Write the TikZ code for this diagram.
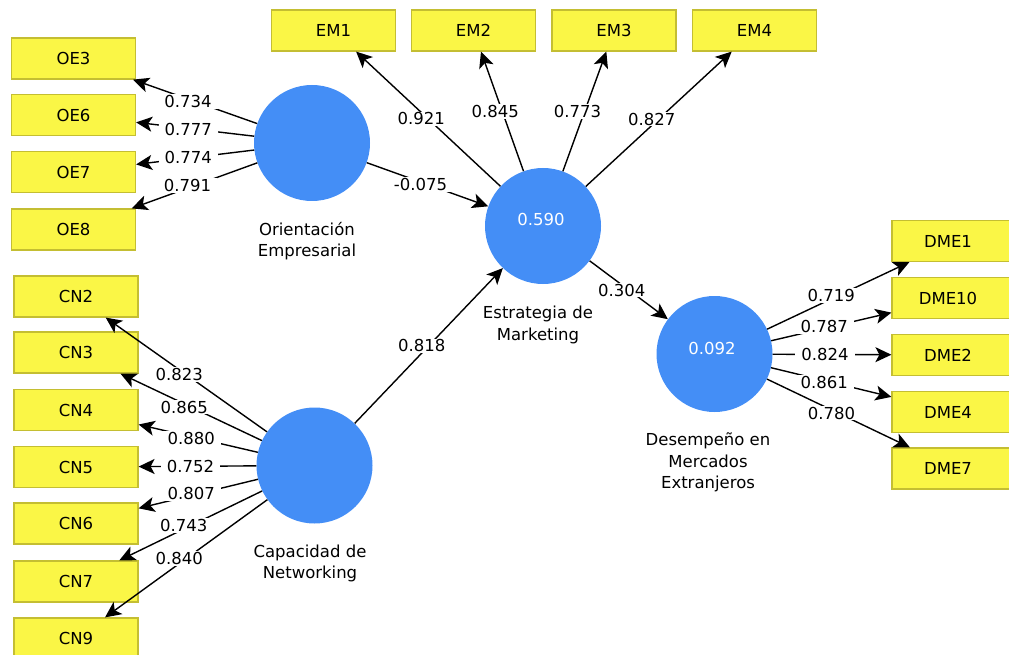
\documentclass[tikz,border=0pt]{standalone}
\usepackage{fontspec}
\setmainfont{DejaVu Sans}
\usetikzlibrary{arrows.meta}
\definecolor{lvblue}{RGB}{68,142,246}
\definecolor{mvfill}{RGB}{250,246,70}
\definecolor{mvdraw}{RGB}{196,190,50}
\begin{document}
\begin{tikzpicture}[x=1pt,y=-1pt,
  mv/.style={draw=mvdraw, fill=mvfill, line width=1.2pt, minimum width=124pt, minimum height=41pt, inner sep=0pt, font=\fontsize{16.5}{19}\selectfont},
  lv/.style={circle, fill=lvblue, minimum size=116pt, inner sep=0pt},
  arr/.style={line width=1.4pt, -{Stealth[length=16pt,width=15pt,inset=4pt]}},
  lab/.style={fill=white, inner xsep=6pt, inner ysep=1pt, xshift=-7pt, font=\fontsize{16.5}{19}\selectfont},
  lvcap/.style={align=center, font=\fontsize{16.5}{21.5}\selectfont},
  r2/.style={text=white, font=\fontsize{16.5}{19}\selectfont}]
\useasboundingbox (0,0) rectangle (1009,655);
\clip (0,0) rectangle (1009,655);
% indicator boxes
\node[mv] (OE3) at (73.5,58.5) {OE3};
\node[mv] (OE6) at (73.5,115) {OE6};
\node[mv] (OE7) at (73.5,172) {OE7};
\node[mv] (OE8) at (73.5,229.5) {OE8};
\node[mv] (CN2) at (76,296.5) {CN2};
\node[mv] (CN3) at (76,352.5) {CN3};
\node[mv] (CN4) at (76,410) {CN4};
\node[mv] (CN5) at (76,467) {CN5};
\node[mv] (CN6) at (76,523.5) {CN6};
\node[mv] (CN7) at (76,581.5) {CN7};
\node[mv] (CN9) at (76,638.5) {CN9};
\node[mv] (EM1) at (333.5,30.5) {EM1};
\node[mv] (EM2) at (473.5,30.5) {EM2};
\node[mv] (EM3) at (614,30.5) {EM3};
\node[mv] (EM4) at (754.5,30.5) {EM4};
\node[mv] (DME1) at (954,241) {};
\node[mv] (DME10) at (954,298) {};
\node[mv] (DME2) at (954,355) {};
\node[mv] (DME4) at (954,412) {};
\node[mv] (DME7) at (954,468.5) {};
\node[font=\fontsize{16.5}{19}\selectfont] (tDME1) at (948,241) {DME1};
\node[font=\fontsize{16.5}{19}\selectfont] (tDME10) at (948,298) {DME10};
\node[font=\fontsize{16.5}{19}\selectfont] (tDME2) at (948,355) {DME2};
\node[font=\fontsize{16.5}{19}\selectfont] (tDME4) at (948,412) {DME4};
\node[font=\fontsize{16.5}{19}\selectfont] (tDME7) at (948,468.5) {DME7};
% latent variables
\node[lv] (o) at (312,143) {};
\node[lv] (e) at (543,226) {};
\node[lv] (d) at (714.5,354) {};
\node[lv] (c) at (314.5,465.5) {};
\node[r2] (er) at (541,219) {0.590};
\node[r2] (dr) at (712,348) {0.092};
\node[lvcap] (ol) at (307,241) {Orientación\\Empresarial};
\node[lvcap] (el) at (538,325) {Estrategia de\\Marketing};
\node[lvcap] (dl) at (708,462.5) {Desempeño en\\Mercados\\Extranjeros};
\node[lvcap] (cl) at (310,563.5) {Capacidad de\\Networking};
% connectors
\foreach \a/\b in {o/OE3,o/OE6,o/OE7,o/OE8,c/CN2,c/CN3,c/CN4,c/CN5,c/CN6,c/CN7,c/CN9,e/EM1,e/EM2,e/EM3,e/EM4,d/DME1,d/DME10,d/DME2,d/DME4,d/DME7,o/e,c/e,e/d}
  \draw[arr] (\a) -- (\b);
% labels
\foreach \a/\b/\t in {o/OE3/0.734,o/OE6/0.777,o/OE7/0.774,o/OE8/0.791,c/CN2/0.823,c/CN3/0.865,c/CN4/0.880,c/CN5/0.752,c/CN6/0.807,c/CN7/0.743,c/CN9/0.840,e/EM1/0.921,e/EM2/0.845,e/EM3/0.773,e/EM4/0.827,d/DME1/0.719,d/DME10/0.787,d/DME2/0.824,d/DME4/0.861,d/DME7/0.780,o/e/-0.075,c/e/0.818,e/d/0.304}
  \path (\a) -- node[lab] {\t} (\b);
\end{tikzpicture}
\end{document}
